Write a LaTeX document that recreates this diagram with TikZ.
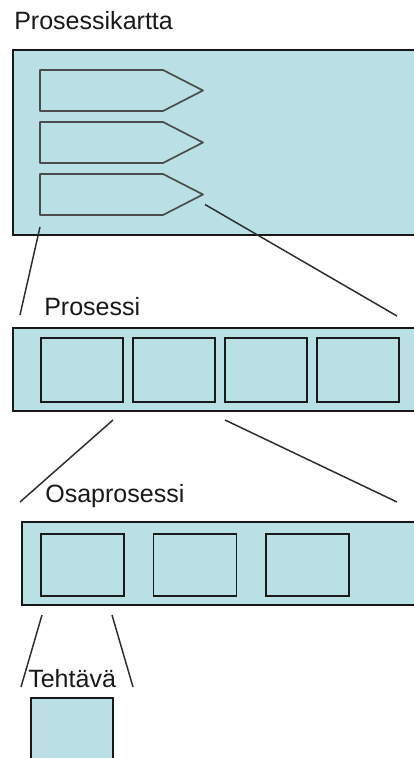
\documentclass[tikz,border=0pt]{standalone}
\usepackage{fontspec}
\setmainfont{Liberation Sans}
\usetikzlibrary{positioning, calc}
\definecolor{PanelFill}{RGB}{185,225,229}
\definecolor{EdgeLine}{RGB}{25,25,25}
\definecolor{LinkLine}{RGB}{45,45,45}

\begin{document}
\begin{tikzpicture}[
    x=0.025cm, y=-0.025cm,
    panel/.style={
        rectangle, draw=EdgeLine, line width=1.3pt, fill=PanelFill,
        anchor=north west, inner sep=0pt
    },
    cell/.style={
        panel, minimum width=2.05cm, minimum height=1.6cm
    },
    pointer/.style={draw=LinkLine!85, line width=1.2pt, fill=PanelFill,
        line join=round},
    link/.style={draw=LinkLine, line width=1.05pt},
    title/.style={anchor=base west, inner sep=0pt, text=black!90,
        font=\fontsize{17.8pt}{20pt}\selectfont}
]
\clip (0,0) rectangle (414,758);

% ===================================================================
% PROSESSIKARTTA
% ===================================================================
\node[title] (tkartta) at (14,29) {Prosessikartta};
\node[panel, minimum width=10.6cm, minimum height=4.625cm] (kartta) at (12,49) {};

% three process arrows
\foreach \y/\n in {70/1,122/2,174/3}{
    \draw[pointer] (40,\y) -- (163,\y) -- (203,{\y+20.5})
        -- (163,{\y+41}) -- (40,{\y+41}) -- cycle;
    \coordinate (tip\n) at (203,{\y+20.5});
    \coordinate (foot\n) at (40,{\y+41});
}

% ===================================================================
% PROSESSI
% ===================================================================
\node[title] (tprosessi) at (44,315) {Prosessi};
\node[panel, minimum width=10.3cm, minimum height=2.075cm] (prosessi) at (12,327) {};
\foreach \i in {0,...,3}
    \node[cell] (p\i) at ({40+92*\i},337) {};

\coordinate (a1) at ($(foot3)+(0,12)$);
\coordinate (a2) at (20,315);
\coordinate (b1) at ($(tip3)+(2,10)$);
\coordinate (b2) at (397,316);
\draw[link] (a1) -- (a2);
\draw[link] (b1) -- (b2);

% ===================================================================
% OSAPROSESSI
% ===================================================================
\node[title] (tosa) at (45,502) {Osaprosessi};
\node[panel, minimum width=10.1cm, minimum height=2.075cm] (osa) at (21,521) {};
\foreach \i in {0,1,2}
    \node[cell, minimum width=2.075cm, minimum height=1.55cm] (o\i) at ({40+112.5*\i},533) {};

\coordinate (c1) at (113,420);
\coordinate (c2) at (20,502);
\coordinate (d1) at (225,420);
\coordinate (d2) at (397,502);
\draw[link] (c1) -- (c2);
\draw[link] (d1) -- (d2);

% ===================================================================
% TEHTAVA
% ===================================================================
\node[title] (ttehtava) at (28,687) {Tehtävä};
\node[cell] (tehtava) at (30,697) {};

\coordinate (e1) at (42,615);
\coordinate (e2) at (21,687);
\coordinate (f1) at (112,615);
\coordinate (f2) at (133,687);
\draw[link] (e1) -- (e2);
\draw[link] (f1) -- (f2);

\end{tikzpicture}
\end{document}
